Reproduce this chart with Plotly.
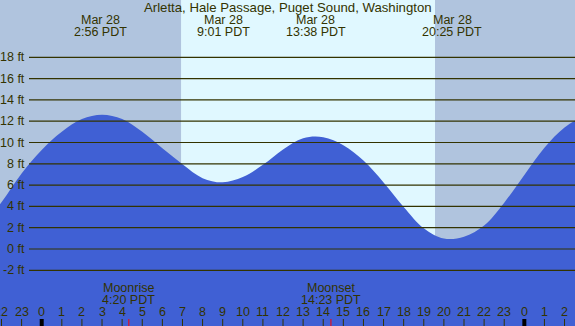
import plotly.graph_objects as go

# ---- data ----
title = "Arletta, Hale Passage, Puget Sound, Washington"
# hours relative to midnight starting Mar 28 (negative = Mar 27 evening)
tide_hours = [-3, -2, -1, 0, 1, 2, 3, 4, 5, 6, 7, 8, 9, 10, 11, 12, 13,
              14, 15, 16, 17, 18, 19, 20, 21, 22, 23, 24, 25, 26, 27, 28]
tide_ft = [2.0, 4.4, 7.1, 9.3, 11.0, 12.2, 12.6, 12.2, 11.0, 9.45, 7.95, 6.65, 6.26, 6.75, 7.9, 9.35, 10.4,
           10.5, 9.75, 8.3, 6.25, 3.95, 1.95, 0.98, 1.15, 2.2, 4.35, 6.95, 9.5, 11.4, 12.5, 12.9]

event_hours = [2.933, 9.017, 13.633, 20.417, 27.7]
event_dates = ["Mar 28", "Mar 28", "Mar 28", "Mar 28", "Mar 29"]
event_times = ["2:56 PDT", "9:01 PDT", "13:38 PDT", "20:25 PDT", "3:42 PDT"]

moon_hours = [4.333, 14.383]
moon_names = ["Moonrise", "Moonset"]
moon_times = ["4:20 PDT", "14:23 PDT"]

sunrise_hour = 6.93
sunset_hour = 19.56

y_ticks = [-2, 0, 2, 4, 6, 8, 10, 12, 14, 16, 18]
x_ticks = list(range(-2, 27))
x_tick_labels = [str(h % 24) for h in x_ticks]

# ---- layout constants ----
W, H = 575, 326
x_range = [-2.074, 26.52]
y_range = [-7.23, 23.38]
night_col = "#B0C4DE"
day_col = "#E0F8FF"
water_col = "#4060D4"
ink = "#333300"
font = "Liberation Sans, Arial, sans-serif"
fs = 12.5

fig = go.Figure()
fig.add_trace(go.Scatter(x=tide_hours, y=[y_range[0] - 1] * len(tide_hours),
                         mode="lines", line=dict(width=0), hoverinfo="skip", showlegend=False))
fig.add_trace(go.Scatter(x=tide_hours, y=tide_ft, mode="lines",
                         line=dict(width=0, shape="spline", smoothing=1.0, color=water_col),
                         fill="tonexty", fillcolor=water_col, showlegend=False))

shapes = []
shapes.append(dict(type="rect", xref="x", yref="paper", x0=x_range[0] - 1, x1=sunrise_hour,
                   y0=0, y1=1, fillcolor=night_col, line=dict(width=0), layer="below"))
shapes.append(dict(type="rect", xref="x", yref="paper", x0=sunrise_hour, x1=sunset_hour,
                   y0=0, y1=1, fillcolor=day_col, line=dict(width=0), layer="below"))
shapes.append(dict(type="rect", xref="x", yref="paper", x0=sunset_hour, x1=x_range[1] + 1,
                   y0=0, y1=1, fillcolor=night_col, line=dict(width=0), layer="below"))
for v in y_ticks:
    shapes.append(dict(type="line", xref="paper", yref="y", x0=29 / W, x1=1, y0=v, y1=v,
                       line=dict(color=ink, width=1.2), layer="above"))
for h in x_ticks:
    midnight = (h % 24 == 0)
    shapes.append(dict(type="line", xref="x", yref="paper", x0=h, x1=h, y0=0, y1=7 / H,
                       line=dict(color="#000000" if midnight else ink, width=4 if midnight else 1),
                       layer="above"))
for h in moon_hours:
    shapes.append(dict(type="line", xref="x", yref="paper", x0=h, x1=h, y0=0, y1=7 / H,
                       line=dict(color="#FF0000", width=1), layer="above"))

ann = []
def txt(x, y, s, xref="x", xanchor="center", size=fs):
    ann.append(dict(x=x, y=y, xref=xref, yref="paper", text=s, showarrow=False,
                    xanchor=xanchor, yanchor="middle", font=dict(family=font, size=size, color=ink)))

txt(0.5, 1 - 7.5 / H, title, xref="paper", size=13.2)
for h, d, t in zip(event_hours, event_dates, event_times):
    txt(h, 1 - 20 / H, d)
    txt(h, 1 - 32 / H, t)
for h, n, t in zip(moon_hours, moon_names, moon_times):
    txt(h, 1 - 288 / H, n)
    txt(h, 1 - 300 / H, t)
for h, lab in zip(x_ticks, x_tick_labels):
    txt(h, 1 - 312 / H, lab)
for v in y_ticks:
    ann.append(dict(x=27 / W, y=v, xref="paper", yref="y", text=f"{v} ft", showarrow=False,
                    xanchor="right", yanchor="middle", font=dict(family=font, size=fs, color=ink)))

fig.update_layout(
    width=W, height=H, margin=dict(l=0, r=0, t=0, b=0),
    paper_bgcolor=night_col, plot_bgcolor=night_col,
    xaxis=dict(range=x_range, visible=False, fixedrange=True),
    yaxis=dict(range=y_range, visible=False, fixedrange=True),
    shapes=shapes, annotations=ann, showlegend=False,
)
fig.write_html("out.html", config={"displayModeBar": False},
               post_script="document.body.style.margin='0';document.body.style.padding='0';")
